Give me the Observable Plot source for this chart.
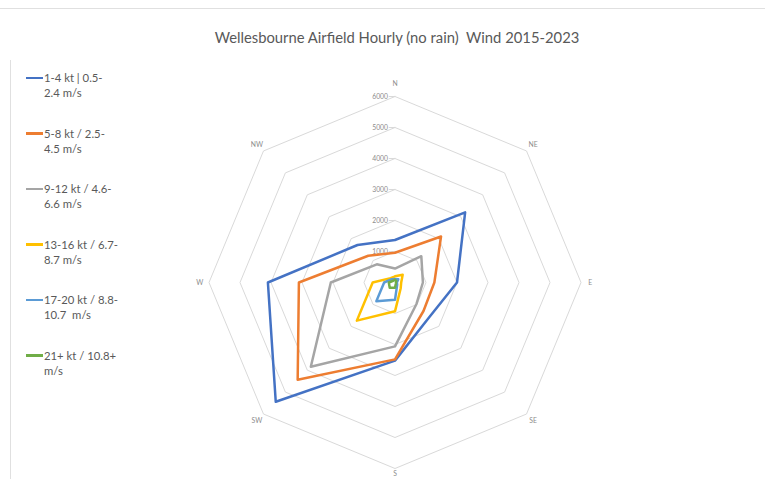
<!DOCTYPE html>
<html>
<head>
<meta charset="utf-8">
<script src="https://cdn.jsdelivr.net/npm/d3@7"></script>
<script src="https://cdn.jsdelivr.net/npm/@observablehq/plot@0.6"></script>
<style>
  html, body { margin: 0; padding: 0; background: #fff; }
  #wrap { position: relative; width: 765px; height: 479px; overflow: hidden; font-family: Lato, "Liberation Sans", sans-serif; }
  #chart { position: absolute; left: 0; top: 0; }
  #title { position: absolute; left: 0; width: 794px; top: 28px; text-align: center; font-size: 14.8px; color: #595959; white-space: pre; }
  .border-top { position: absolute; left: 0; right: 0; top: 8px; height: 1px; background: #e0e0e0; }
  .border-left { position: absolute; left: 10px; top: 60px; bottom: 0; width: 1px; background: #e0e0e0; }
  .leg { position: absolute; left: 26px; font-size: 11.3px; color: #595959; line-height: 15px; }
  .leg .sw { position: absolute; left: 0; top: 6.5px; width: 17px; height: 2.5px; }
  .leg .tx { position: absolute; left: 18px; top: 0; white-space: pre; }
</style>
</head>
<body>
<div id="wrap">
  <div class="border-top"></div>
  <div class="border-left"></div>
  <div id="chart"></div>
  <div id="title"></div>
</div>
<script>
// ---- data ----
const titleText = "Wellesbourne Airfield Hourly (no rain)  Wind 2015-2023";
const directions = ["N", "NE", "E", "SE", "S", "SW", "W", "NW"];
const seriesNames = [
  "1-4 kt | 0.5-2.4 m/s",
  "5-8 kt / 2.5-4.5 m/s",
  "9-12 kt / 4.6-6.6 m/s",
  "13-16 kt / 6.7-8.7 m/s",
  "17-20 kt / 8.8-10.7  m/s",
  "21+ kt / 10.8+m/s"
];
const legendLines = [
  ["1-4 kt | 0.5-", "2.4 m/s"],
  ["5-8 kt / 2.5-", "4.5 m/s"],
  ["9-12 kt / 4.6-", "6.6 m/s"],
  ["13-16 kt / 6.7-", "8.7 m/s"],
  ["17-20 kt / 8.8-", "10.7  m/s"],
  ["21+ kt / 10.8+", "m/s"]
];
const kt1to4   = [1370, 3200, 2000, 1570, 2520, 5440, 4100, 1710];
const kt5to8   = [960, 2100, 1270, 1300, 2480, 4440, 3100, 1220];
const kt9to12  = [450, 1200, 900, 980, 2060, 3840, 2070, 830];
const kt13to16 = [200, 350, 200, 260, 930, 1740, 720, 200];
const kt17to20 = [110, 150, 60, 100, 560, 850, 350, 150];
const kt21plus = [90, 60, 30, 40, 170, 240, 200, 80];
const seriesColors = ["#4472C4", "#ED7D31", "#A5A5A5", "#FFC000", "#5B9BD5", "#70AD47"];
const radialTicks = [1000, 2000, 3000, 4000, 5000, 6000];
const radialMax = 6000;

// ---- derived rows ----
const allValues = [kt1to4, kt5to8, kt9to12, kt13to16, kt17to20, kt21plus];
const angleOf = j => j * 2 * Math.PI / directions.length;
const polar = (r, j) => ({x: r * Math.sin(angleOf(j)), y: r * Math.cos(angleOf(j))});

const seriesRows = [];
allValues.forEach((vals, i) => {
  for (let k = 0; k <= directions.length; k++) {
    const j = k % directions.length;
    seriesRows.push({series: seriesNames[i], dir: directions[j], value: vals[j], ...polar(vals[j], j)});
  }
});
const gridRows = [];
radialTicks.forEach(level => {
  for (let k = 0; k <= directions.length; k++) {
    const j = k % directions.length;
    gridRows.push({level, ...polar(level, j)});
  }
});
const labelRows = directions.map((d, j) => ({dir: d, ...polar(radialMax * 1.05, j)}));
const tickRows = radialTicks.map(level => ({level}));

document.getElementById("title").textContent = titleText;

const labelStyle = {x: "x", y: "y", text: "dir", fontSize: 6.8, fill: "#8c8c8c", fontFamily: "Lato, sans-serif"};

const chart = Plot.plot({
  width: 765,
  height: 479,
  marginLeft: 208.5,
  marginRight: 184.5,
  marginTop: 96,
  marginBottom: 11,
  style: {background: "transparent", overflow: "visible"},
  x: {domain: [-radialMax, radialMax], axis: null},
  y: {domain: [-radialMax, radialMax], axis: null},
  color: {domain: seriesNames, range: seriesColors},
  marks: [
    Plot.line(gridRows, {x: "x", y: "y", z: "level", stroke: "#d9d9d9", strokeWidth: 1}),
    Plot.link(tickRows, {x1: 0, x2: -200, y1: "level", y2: "level", stroke: "#d9d9d9", strokeWidth: 1}),
    Plot.text(tickRows, {x: 0, y: "level", text: d => String(d.level), textAnchor: "end", dx: -7, fontSize: 6.8, fill: "#8c8c8c", fontFamily: "Lato, sans-serif"}),
    Plot.text(labelRows.filter(d => d.dir !== "N" && d.dir !== "S"), labelStyle),
    Plot.text(labelRows.filter(d => d.dir === "N"), {...labelStyle, dy: -3}),
    Plot.text(labelRows.filter(d => d.dir === "S"), {...labelStyle, dy: -4}),
    Plot.line(seriesRows, {x: "x", y: "y", z: "series", stroke: "series", strokeWidth: 2.5, strokeLinejoin: "round"})
  ]
});
document.getElementById("chart").appendChild(chart);

// ---- legend ----
const wrap = document.getElementById("wrap");
legendLines.forEach((lines, i) => {
  const el = document.createElement("div");
  el.className = "leg";
  el.style.top = (70 + i * 55.5) + "px";
  const sw = document.createElement("div");
  sw.className = "sw";
  sw.style.background = seriesColors[i];
  const tx = document.createElement("div");
  tx.className = "tx";
  tx.textContent = lines.join("\n");
  el.appendChild(sw);
  el.appendChild(tx);
  wrap.appendChild(el);
});
</script>
</body>
</html>
